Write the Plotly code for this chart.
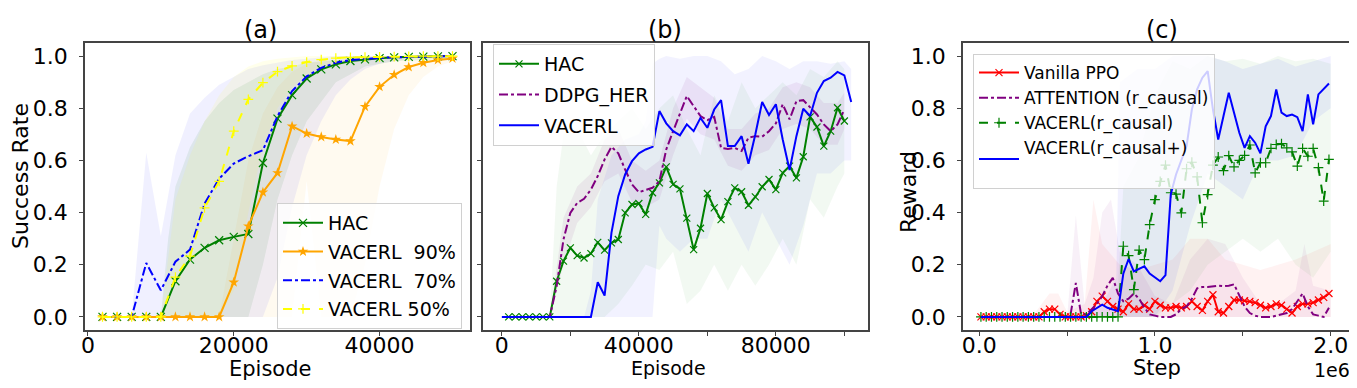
import plotly.graph_objects as go

# the page body keeps its default 8px margin, so the figure is drawn 8px in
OFF = 8
W, H = 1357 - 2 * OFF, 388 - 2 * OFF

# ---------------- (a) ----------------
ep_a = list(range(2000, 50001, 2000))
hac_a = [0, 0, 0, 0, 0, 0.137, 0.22, 0.265, 0.294, 0.307, 0.318, 0.59, 0.76, 0.85, 0.914,
         0.949, 0.968, 0.981, 0.987, 0.992, 0.995, 0.997, 0.998, 0.999, 1.0]
v90_a = [0, 0, 0, 0, 0, 0, 0, 0, 0, 0.133, 0.348, 0.478, 0.552, 0.731, 0.703,
         0.69, 0.68, 0.674, 0.806, 0.882, 0.928, 0.958, 0.974, 0.985, 0.991]
v70_a = [0, 0, 0, 0.207, 0.102, 0.212, 0.258, 0.435, 0.53, 0.588, 0.616, 0.639, 0.77, 0.866, 0.922,
         0.955, 0.974, 0.985, 0.99, 0.993, 0.995, 0.997, 0.998, 0.999, 1.0]
v50_a = [0, 0, 0, 0, 0, 0.153, 0.233, 0.418, 0.52, 0.712, 0.834, 0.898, 0.94, 0.962, 0.977,
         0.986, 0.992, 0.995, 0.996, 0.997, 0.998, 0.999, 1.0, 1.0, 1.0]

hac_a_bx = [10000, 11000, 12000, 14000, 16000, 18000, 20000, 22000, 24000, 26000, 28000, 30000, 34000, 38000, 42000, 50000]
hac_a_hi = [0, 0.3, 0.5, 0.65, 0.75, 0.82, 0.87, 0.9, 0.93, 0.95, 0.96, 0.975, 0.985, 0.99, 0.995, 1.0]
hac_a_lo = [0, 0, 0, 0, 0, 0, 0, 0, 0.2, 0.45, 0.62, 0.75, 0.9, 0.96, 0.98, 0.99]
v90_a_bx = [18000, 20000, 22000, 24000, 26000, 28000, 30000, 32000, 34000, 36000, 38000, 40000, 42000, 44000, 46000, 48000, 50000]
v90_a_hi = [0, 0.3, 0.6, 0.78, 0.88, 0.94, 0.97, 0.98, 0.985, 0.99, 0.995, 1.0, 1.0, 1.0, 1.0, 1.0, 1.0]
v90_a_lo = [0, 0, 0, 0, 0, 0, 0.52, 0, 0, 0, 0.2, 0.5, 0.72, 0.85, 0.92, 0.96, 0.98]
v70_a_bx = [6000, 8000, 10000, 12000, 14000, 16000, 18000, 20000, 22000, 24000, 26000, 28000, 30000, 32000, 34000, 36000, 38000, 40000, 44000, 50000]
v70_a_hi = [0, 0.63, 0.31, 0.62, 0.78, 0.84, 0.89, 0.92, 0.95, 0.965, 0.975, 0.985, 0.99, 0.995, 1.0, 1.0, 1.0, 1.0, 1.0, 1.0]
v70_a_lo = [0, 0, 0, 0, 0, 0, 0, 0, 0, 0, 0.15, 0.42, 0.62, 0.75, 0.85, 0.91, 0.95, 0.97, 0.99, 1.0]
v50_a_bx = [10000, 12000, 14000, 16000, 18000, 20000, 22000, 24000, 26000, 28000, 30000, 34000, 40000, 50000]
v50_a_hi = [0, 0.45, 0.62, 0.75, 0.85, 0.92, 0.96, 0.98, 0.99, 0.995, 1.0, 1.0, 1.0, 1.0]
v50_a_lo = [0, 0, 0, 0, 0, 0.1, 0.4, 0.65, 0.8, 0.88, 0.93, 0.97, 0.99, 1.0]

# ---------------- (b) ----------------
ep_b = list(range(2000, 100001, 2000))
ep_b_vac = list(range(0, 102001, 2000))
hac_b = [0, 0, 0, 0, 0, 0, 0,
         0.137, 0.214, 0.265, 0.235, 0.226, 0.243, 0.286, 0.256, 0.284, 0.297,
         0.399, 0.431, 0.435, 0.393, 0.476, 0.514, 0.575, 0.508, 0.491, 0.379,
         0.258, 0.340, 0.473, 0.418, 0.373, 0.442, 0.495, 0.480, 0.428, 0.460,
         0.499, 0.527, 0.488, 0.552, 0.578, 0.533, 0.614, 0.767, 0.728, 0.655,
         0.712, 0.802, 0.751]
ddpg_b = [0, 0, 0, 0, 0, 0, 0,
          0.118, 0.297, 0.399, 0.437, 0.453, 0.488, 0.540, 0.604, 0.652, 0.627,
          0.565, 0.508, 0.478, 0.488, 0.495, 0.520, 0.642, 0.712, 0.783, 0.847,
          0.808, 0.770, 0.754, 0.767, 0.648, 0.644, 0.648, 0.636, 0.687, 0.693,
          0.691, 0.712, 0.742, 0.815, 0.757, 0.827, 0.831, 0.802, 0.776, 0.738,
          0.712, 0.738, 0.795]
vac_b = [0, 0, 0, 0, 0, 0, 0, 0, 0, 0, 0, 0, 0, 0,
         0.133, 0.082, 0.322, 0.463, 0.546, 0.597, 0.627, 0.642, 0.652, 0.789,
         0.742, 0.712, 0.696, 0.738, 0.712, 0.763, 0.725, 0.795, 0.831, 0.655,
         0.655, 0.693, 0.587, 0.699, 0.824, 0.774, 0.815, 0.680, 0.563, 0.693,
         0.798, 0.770, 0.859, 0.904, 0.917, 0.939, 0.926, 0.824]

hac_b_bx = [14000, 16000, 18000, 22000, 26000, 30000, 34000, 38000, 42000, 46000, 50000, 54000,
            58000, 62000, 66000, 70000, 74000, 78000, 82000, 86000, 90000, 94000, 98000, 100000]
hac_b_hi = [0, 0.5, 0.7, 0.72, 0.62, 0.7, 0.75, 0.8, 0.72, 0.8, 0.85, 0.72,
            0.62, 0.85, 0.75, 0.9, 0.8, 0.85, 0.9, 0.85, 0.95, 0.92, 0.98, 0.95]
hac_b_lo = [0, 0, 0, 0, 0, 0, 0.05, 0.12, 0.2, 0.18, 0.25, 0.05,
            0.1, 0.2, 0.1, 0.2, 0.12, 0.2, 0.3, 0.2, 0.45, 0.38, 0.5, 0.55]
ddpg_b_bx = [14000, 18000, 22000, 26000, 30000, 34000, 38000, 42000, 46000, 50000, 54000, 58000,
             62000, 66000, 70000, 74000, 78000, 82000, 86000, 90000, 94000, 98000, 100000]
ddpg_b_hi = [0, 0.38, 0.5, 0.55, 0.68, 0.72, 0.6, 0.56, 0.6, 0.8, 0.92, 0.88,
             0.84, 0.72, 0.72, 0.78, 0.8, 0.88, 0.9, 0.88, 0.82, 0.82, 0.86]
ddpg_b_lo = [0, 0.2, 0.36, 0.42, 0.52, 0.55, 0.44, 0.42, 0.45, 0.62, 0.76, 0.7,
             0.68, 0.58, 0.56, 0.62, 0.64, 0.72, 0.74, 0.72, 0.66, 0.66, 0.72]
vac_b_bx = [24000, 26000, 28000, 32000, 36000, 40000, 42000, 44000, 46000, 48000, 52000, 56000, 60000,
            64000, 68000, 72000, 76000, 80000, 84000, 88000, 92000, 96000, 100000, 102000]
vac_b_hi = [0, 0.1, 0.45, 0.62, 0.68, 0.7, 0.75, 0.97, 0.99, 1.0, 0.99, 1.0, 1.0,
            0.98, 0.93, 0.95, 1.0, 0.98, 0.95, 0.98, 0.98, 0.97, 0.98, 0.95]
vac_b_lo = [0, 0, 0, 0, 0, 0, 0, 0, 0.35, 0.3, 0.25, 0.3, 0.3,
            0.45, 0.35, 0.25, 0.4, 0.3, 0.2, 0.35, 0.55, 0.55, 0.6, 0.6]

# ---------------- (c) ----------------
step_c = list(range(10000, 2000001, 30000))
ppo_c = [0, 0, 0, 0, 0, 0, 0, 0, 0, 0, 0, 0,
         0.02, 0.03, 0.03, 0.01, 0, 0, 0, 0, 0.005, 0.02, 0.06, 0.08, 0.06, 0.04, 0.03,
         0.02, 0.05, 0.03, 0.03, 0.045, 0.03, 0.06, 0.045, 0.035, 0.035, 0.04, 0.035,
         0.04, 0.06, 0.04, 0.025, 0.06, 0.085, 0.02, 0.015, 0.04, 0.065, 0.065, 0.062,
         0.06, 0.055, 0.045, 0.035, 0.04, 0.05, 0.045, 0.03, 0.015, 0.04, 0.05, 0.05,
         0.055, 0.065, 0.075, 0.09]
att_c = [0, 0, 0, 0, 0, 0, 0, 0, 0, 0, 0, 0, 0, 0, 0, 0, 0,
         0.01, 0.13, 0.01, 0.01, 0.03, 0.05, 0.08, 0.12, 0.15, 0.09, 0.06, 0.07, 0.09,
         0.07, 0.035, 0.01, 0.005, 0, 0, 0, 0.01, 0.03, 0.04, 0.07, 0.11, 0.115, 0.115,
         0.118, 0.12, 0.118, 0.12, 0.125, 0.08, 0.04, 0.015, 0.005, 0, 0, 0, 0.005,
         0.01, 0.015, 0.03, 0.06, 0.09, 0.04, 0.01, 0.005, 0, 0.035]
vc_c = [0] * 27 + [
        0.271, 0.235, 0.105, 0.256, 0.220, 0.354, 0.450, 0.52, 0.582, 0.476,
        0.471, 0.399, 0.568, 0.593, 0.537, 0.361, 0.469, 0.582, 0.613, 0.561,
        0.618, 0.575, 0.600, 0.619, 0.659, 0.552, 0.591, 0.591, 0.646, 0.661,
        0.664, 0.648, 0.633, 0.578, 0.646, 0.616, 0.646, 0.572, 0.444, 0.604]
vcp_c = [0] * 21 + [
         0.022, 0.035, 0.047, 0.035, 0.028, 0.022, 0.166, 0.222, 0.175, 0.184,
         0.194, 0.166, 0.152, 0.137, 0.16, 0.47, 0.546, 0.604, 0.655, 0.795,
         0.872, 0.917, 0.942, 0.795, 0.680, 0.770, 0.859, 0.783, 0.706, 0.648,
         0.693, 0.668, 0.627, 0.731, 0.770, 0.872, 0.783, 0.770, 0.776, 0.766,
         0.712, 0.853, 0.738, 0.853, 0.875, 0.895]

ppo_c_bx = [300000, 400000, 450000, 500000, 600000, 650000, 700000, 800000, 900000, 1000000,
            1100000, 1200000, 1300000, 1400000, 1500000, 1600000, 1700000, 1800000, 1900000, 2000000]
ppo_c_hi = [0, 0.09, 0.09, 0.02, 0.05, 0.45, 0.28, 0.2, 0.18, 0.2,
            0.22, 0.3, 0.3, 0.22, 0.2, 0.18, 0.2, 0.22, 0.25, 0.28]
ppo_c_lo = [0, 0, 0, 0, 0, 0, 0, 0, 0, 0, 0, 0, 0, 0, 0, 0, 0, 0, 0, 0]
att_c_bx = [500000, 550000, 600000, 650000, 700000, 750000, 800000, 900000, 1000000, 1100000,
            1200000, 1300000, 1400000, 1500000, 1600000, 1700000, 1800000, 1850000, 1900000, 2000000]
att_c_hi = [0, 0.39, 0.05, 0.15, 0.4, 0.45, 0.25, 0.2, 0.08, 0.05,
            0.22, 0.3, 0.28, 0.15, 0.05, 0.05, 0.1, 0.28, 0.12, 0.1]
att_c_lo = [0, 0, 0, 0, 0, 0, 0, 0, 0, 0, 0, 0, 0, 0, 0, 0, 0, 0, 0, 0]
vc_c_bx = [780000, 820000, 900000, 1000000, 1100000, 1200000, 1300000, 1400000, 1500000,
           1600000, 1700000, 1800000, 1900000, 2000000]
vc_c_hi = [0, 0.5, 0.6, 0.85, 0.98, 0.95, 1.0, 0.98, 0.99, 0.97, 1.0, 0.98, 0.99, 0.97]
vc_c_lo = [0, 0, 0, 0, 0.05, 0.1, 0.2, 0.25, 0.3, 0.25, 0.3, 0.2, 0.15, 0.25]
vcp_c_bx = [600000, 700000, 780000, 800000, 900000, 1000000, 1100000, 1200000, 1300000, 1400000,
            1500000, 1600000, 1700000, 1800000, 1900000, 2000000]
vcp_c_hi = [0, 0.05, 0.15, 0.9, 0.95, 0.95, 1.0, 1.0, 1.0, 0.98, 0.95, 0.97, 0.99, 0.96, 0.98, 1.0]
vcp_c_lo = [0, 0, 0, 0, 0, 0, 0.1, 0.35, 0.55, 0.5, 0.45, 0.6, 0.6, 0.62, 0.75, 0.8]

FONT = "DejaVu Sans"
NB = "\u00a0"
fig = go.Figure()


def band(bx, lo, hi, color, ax):
    fig.add_trace(go.Scatter(
        x=bx + bx[::-1], y=hi + lo[::-1], fill="toself", fillcolor=color,
        line=dict(width=0), mode="lines", hoverinfo="skip", showlegend=False,
        xaxis="x" + ax, yaxis="y" + ax))


def line(x, y, name, color, ax, leg, dash="solid", symbol=None, msize=7, filled=False):
    kw = dict(mode="lines")
    if symbol:
        kw["mode"] = "lines+markers"
        if filled:
            kw["marker"] = dict(symbol=symbol, size=msize, color=color)
        else:
            kw["marker"] = dict(symbol=symbol, size=msize, color=color,
                                line=dict(color=color, width=1.2))
    fig.add_trace(go.Scatter(x=x, y=y, name=name, line=dict(color=color, width=2, dash=dash),
                             xaxis="x" + ax, yaxis="y" + ax, legend=leg,
                             legendgroup=name, **kw))


# bands
band(hac_a_bx, hac_a_lo, hac_a_hi, "rgba(0,128,0,0.08)", "")
band(v90_a_bx, v90_a_lo, v90_a_hi, "rgba(255,165,0,0.06)", "")
band(v70_a_bx, v70_a_lo, v70_a_hi, "rgba(0,0,255,0.06)", "")
band(v50_a_bx, v50_a_lo, v50_a_hi, "rgba(255,255,0,0.08)", "")
band(hac_b_bx, hac_b_lo, hac_b_hi, "rgba(0,128,0,0.05)", "2")
band(ddpg_b_bx, ddpg_b_lo, ddpg_b_hi, "rgba(128,0,128,0.07)", "2")
band(vac_b_bx, vac_b_lo, vac_b_hi, "rgba(0,0,255,0.05)", "2")
band(ppo_c_bx, ppo_c_lo, ppo_c_hi, "rgba(255,0,0,0.05)", "3")
band(att_c_bx, att_c_lo, att_c_hi, "rgba(128,0,128,0.06)", "3")
band(vc_c_bx, vc_c_lo, vc_c_hi, "rgba(0,128,0,0.05)", "3")
band(vcp_c_bx, vcp_c_lo, vcp_c_hi, "rgba(0,0,255,0.06)", "3")

# lines (a)
line(ep_a, hac_a, "HAC", "green", "", "legend", symbol="x-thin", msize=8)
line(ep_a, v90_a, "VACERL" + NB + NB + "90%", "orange", "", "legend", symbol="star", msize=8, filled=True)
line(ep_a, v70_a, "VACERL" + NB + NB + "70%", "blue", "", "legend", dash="dashdot")
line(ep_a, v50_a, "VACERL 50%", "yellow", "", "legend", dash="dash", symbol="cross-thin", msize=7)
# lines (b)
line(ep_b, hac_b, "HAC ", "green", "2", "legend2", symbol="x-thin", msize=7)
line(ep_b, ddpg_b, "DDPG_HER", "purple", "2", "legend2", dash="dashdot")
line(ep_b_vac, vac_b, "VACERL", "blue", "2", "legend2")
# lines (c)
line(step_c, ppo_c, "Vanilla PPO", "red", "3", "legend3", symbol="x-thin", msize=7)
line(step_c, att_c, "ATTENTION (r_causal)", "purple", "3", "legend3", dash="dashdot")
line(step_c, vc_c, "VACERL(r_causal)", "green", "3", "legend3", dash="dash", symbol="cross-thin", msize=7)
line(step_c, vcp_c, "VACERL(r_causal+)<br> ", "blue", "3", "legend3")

ax_style = dict(showline=True, mirror=True, linecolor="#444", linewidth=1.6,
                ticks="outside", ticklen=4, tickwidth=1.2, tickcolor="#444",
                showgrid=False, zeroline=False, automargin=False,
                tickfont=dict(family=FONT, size=22, color="black"))


def pxx(x0, x1):
    return [(x0 - OFF) / W, (x1 - OFF) / W]


def fx(x):
    return (x - OFF) / W


def fy(y):
    return 1 - (y - OFF) / H


ydom = [fy(330), fy(43)]
yticks = [0, 0.2, 0.4, 0.6, 0.8, 1.0]
ytext = ["0.0", "0.2", "0.4", "0.6", "0.8", "1.0"]

leg_common = dict(bgcolor="rgba(255,255,255,0.8)", bordercolor="#d0d0d0", borderwidth=1,
                  xanchor="left", yanchor="top", traceorder="grouped",
                  itemwidth=40, font=dict(family=FONT, size=19, color="black"))

fig.update_layout(
    width=W, height=H, margin=dict(l=0, r=0, t=0, b=0, autoexpand=False),
    paper_bgcolor="white", plot_bgcolor="white",
    font=dict(family=FONT, color="black"),
    xaxis=dict(domain=pxx(85, 470), range=[-400, 52400], tickvals=[0, 20000, 40000],
               ticktext=["0", "20000", "40000"], anchor="y", ticklabelstandoff=-9, **ax_style),
    yaxis=dict(domain=ydom, range=[-0.05, 1.05], tickvals=yticks, ticktext=ytext,
               anchor="x", ticklabelstandoff=7, **ax_style),
    xaxis2=dict(domain=pxx(483, 868), range=[-5500, 106900],
                tickvals=[0, 20000, 40000, 60000, 80000, 100000],
                ticktext=["0", "", "40000", "", "80000", ""], anchor="y2",
                ticklabelstandoff=-9, **ax_style),
    yaxis2=dict(domain=ydom, range=[-0.05, 1.05], tickvals=yticks, showticklabels=False,
                anchor="x2", **ax_style),
    xaxis3=dict(domain=pxx(963, 1349), range=[-92000, 2104000],
                tickvals=[0, 500000, 1000000, 1500000, 2000000],
                ticktext=["0.0", "", "1.0", "", "2.0"], anchor="y3",
                ticklabelstandoff=-9, **ax_style),
    yaxis3=dict(domain=ydom, range=[-0.05, 1.05], tickvals=yticks, ticktext=ytext,
                anchor="x3", ticklabelstandoff=7, **ax_style),
    legend=dict(x=fx(277), y=fy(203), tracegroupgap=1, **leg_common),
    legend2=dict(x=fx(493), y=fy(44), tracegroupgap=3, **leg_common),
    legend3=dict(x=fx(973), y=fy(54), tracegroupgap=0,
                 **{**leg_common, "font": dict(family=FONT, size=17, color="black")}),
)


def label(text, x, y, size, angle=0):
    fig.add_annotation(text=text, x=fx(x), y=fy(y), xref="paper", yref="paper",
                       showarrow=False, textangle=angle, xanchor="center", yanchor="middle",
                       font=dict(family=FONT, size=size, color="black"))


label("(a)", 260, 30, 24)
label("(b)", 665, 30, 24)
label("(c)", 1162, 30, 24)
label("Success Rate", 20, 176, 22, -90)
label("Episode", 270, 369, 21)
label("Episode", 668, 368, 19)
label("Reward", 908, 192, 22, -90)
label("Step", 1157, 368, 21)
label("1e6", 1332, 370, 19)

fig.write_html("out.html")
